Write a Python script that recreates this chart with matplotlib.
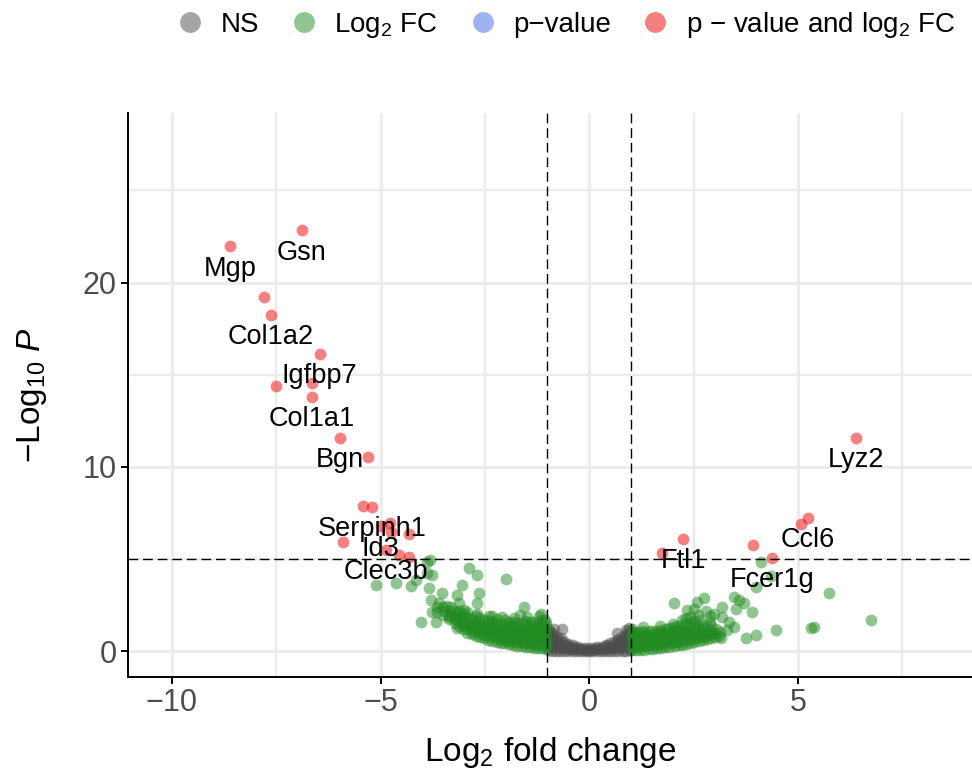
import numpy as np
import matplotlib
matplotlib.use('Agg')
import matplotlib.pyplot as plt
from matplotlib.lines import Line2D
from matplotlib.ticker import MultipleLocator

plt.rcParams['font.family'] = ['Liberation Sans', 'DejaVu Sans']
plt.rcParams['mathtext.fontset'] = 'custom'
plt.rcParams['mathtext.rm'] = 'Liberation Sans'
plt.rcParams['mathtext.it'] = 'Liberation Sans:italic'
plt.rcParams['mathtext.bf'] = 'Liberation Sans:bold'

# cut-offs: |log2FC| > 1 and -log10 p > 5
fc_cut = 1.0
p_cut = 5.0

# genes passing both cut-offs (name '' = not labelled)
sig_genes = ['Mgp', 'Gsn', '', 'Col1a2', 'Igfbp7', '', '', 'Col1a1', 'Bgn', '',
             '', 'Serpinh1', 'Id3', '', '', '', '', 'Clec3b', '', '',
             'Lyz2', 'Ccl6', '', 'Ftl1', '', '', 'Fcer1g']
sig_x = [-8.61, -6.89, -7.80, -7.63, -6.46, -7.51, -6.65, -6.65, -5.98, -5.29,
         -5.43, -5.20, -5.00, -4.78, -4.74, -4.31, -5.91, -4.88, -4.55, -4.31,
         6.39, 5.24, 5.07, 2.25, 1.75, 3.92, 4.38]
sig_y = [21.96, 22.83, 19.24, 18.26, 16.14, 14.40, 14.57, 13.80, 11.58, 10.54,
         7.88, 7.83, 6.78, 6.96, 6.47, 6.36, 5.92, 5.52, 5.22, 5.11,
         11.58, 7.23, 6.90, 6.09, 5.33, 5.76, 5.05]

# genes passing the fold-change cut-off only
fc_left_pts = [
    (-1.03, 0.14), (-1.03, 0.33), (-1.04, 0.57), (-1.03, 0.74), (-1.03, 0.97), (-1.04, 1.12), (-1.03, 1.38), (-1.03, 1.53), (-1.05, 1.72),
    (-1.12, 0.16), (-1.13, 0.38), (-1.11, 0.55), (-1.12, 0.78), (-1.13, 0.95), (-1.12, 1.18), (-1.11, 1.34), (-1.12, 1.57), (-1.14, 1.70),
    (-1.22, 0.18), (-1.21, 0.37), (-1.23, 0.59), (-1.22, 0.77), (-1.21, 0.99), (-1.23, 1.17), (-1.22, 1.40), (-1.21, 1.58), (-1.20, 1.90),
    (-1.32, 0.20), (-1.33, 0.41), (-1.31, 0.60), (-1.32, 0.82), (-1.33, 1.00), (-1.31, 1.21), (-1.32, 1.39), (-1.33, 1.62),
    (-1.42, 0.22), (-1.41, 0.43), (-1.43, 0.61), (-1.42, 0.83), (-1.41, 1.03), (-1.43, 1.22), (-1.42, 1.43), (-1.41, 1.60),
    (-1.52, 0.25), (-1.53, 0.44), (-1.51, 0.66), (-1.52, 0.85), (-1.53, 1.06), (-1.51, 1.24), (-1.52, 1.46), (-1.53, 1.66), (-1.50, 1.85),
    (-1.62, 0.28), (-1.61, 0.49), (-1.63, 0.67), (-1.62, 0.89), (-1.61, 1.07), (-1.63, 1.29), (-1.62, 1.50),
    (-1.72, 0.31), (-1.73, 0.50), (-1.71, 0.72), (-1.72, 0.90), (-1.73, 1.12), (-1.71, 1.30), (-1.72, 1.55),
    (-1.82, 0.35), (-1.81, 0.56), (-1.83, 0.74), (-1.82, 0.96), (-1.81, 1.14), (-1.83, 1.36), (-1.82, 1.60), (-1.80, 1.82),
    (-1.92, 0.39), (-1.93, 0.58), (-1.91, 0.80), (-1.92, 0.98), (-1.93, 1.20), (-1.91, 1.40), (-1.92, 1.62),
    (-2.02, 0.43), (-2.01, 0.64), (-2.03, 0.82), (-2.02, 1.04), (-2.01, 1.22), (-2.03, 1.45), (-2.02, 1.68),
    (-2.12, 0.48), (-2.13, 0.67), (-2.11, 0.89), (-2.12, 1.07), (-2.13, 1.29), (-2.11, 1.50), (-2.10, 1.85),
    (-2.22, 0.53), (-2.21, 0.74), (-2.23, 0.92), (-2.22, 1.14), (-2.21, 1.32), (-2.23, 1.55), (-2.22, 1.75),
    (-2.32, 0.58), (-2.33, 0.77), (-2.31, 0.99), (-2.32, 1.17), (-2.33, 1.39), (-2.31, 1.60),
    (-2.42, 0.64), (-2.41, 0.85), (-2.43, 1.03), (-2.42, 1.25), (-2.41, 1.43), (-2.43, 1.66), (-2.40, 1.90),
    (-2.52, 0.70), (-2.53, 0.89), (-2.51, 1.11), (-2.52, 1.29), (-2.53, 1.51), (-2.51, 1.72),
    (-2.62, 0.77), (-2.61, 0.98), (-2.63, 1.16), (-2.62, 1.38), (-2.61, 1.56), (-2.63, 1.80),
    (-2.72, 0.85), (-2.73, 1.04), (-2.71, 1.26), (-2.72, 1.44), (-2.73, 1.66), (-2.71, 1.90), (-2.70, 2.05),
    (-2.82, 0.93), (-2.81, 1.14), (-2.83, 1.32), (-2.82, 1.54), (-2.81, 1.75),
    (-2.92, 1.02), (-2.93, 1.21), (-2.91, 1.43), (-2.92, 1.61), (-2.93, 1.85),
    (-3.02, 1.22), (-3.01, 1.43), (-3.03, 1.61), (-3.02, 1.83), (-3.01, 2.02), (-3.00, 2.25),
    (-3.12, 1.40), (-3.13, 1.58), (-3.11, 1.80), (-3.12, 2.00), (-3.13, 2.20),
    (-3.22, 1.55), (-3.21, 1.77), (-3.23, 1.98), (-3.22, 2.20),
    (-3.35, 1.75), (-3.36, 1.96), (-3.34, 2.18), (-3.30, 2.40),
    (-3.50, 1.95), (-3.49, 2.20), (-3.51, 2.42),
    (-3.65, 2.15), (-3.64, 2.40), (-3.60, 2.60),
]
fc_right_pts = [
    (1.03, 0.06), (1.03, 0.27), (1.04, 0.45), (1.03, 0.67), (1.03, 0.85), (1.04, 1.06), (1.03, 1.22),
    (1.12, 0.07), (1.13, 0.26), (1.11, 0.48), (1.12, 0.66), (1.13, 0.88), (1.12, 1.05),
    (1.22, 0.08), (1.21, 0.29), (1.23, 0.47), (1.22, 0.69), (1.21, 0.87), (1.23, 1.08),
    (1.32, 0.10), (1.33, 0.29), (1.31, 0.51), (1.32, 0.69), (1.33, 0.91), (1.31, 1.05), (1.30, 1.30),
    (1.42, 0.12), (1.41, 0.33), (1.43, 0.51), (1.42, 0.73), (1.41, 0.91), (1.43, 1.10),
    (1.52, 0.14), (1.53, 0.33), (1.51, 0.55), (1.52, 0.73), (1.53, 0.95), (1.51, 1.08),
    (1.62, 0.16), (1.61, 0.37), (1.63, 0.55), (1.62, 0.77), (1.61, 0.95), (1.63, 1.12),
    (1.72, 0.19), (1.73, 0.38), (1.71, 0.60), (1.72, 0.78), (1.73, 1.00), (1.71, 1.15), (1.70, 1.35),
    (1.82, 0.22), (1.81, 0.43), (1.83, 0.61), (1.82, 0.83), (1.81, 1.01), (1.83, 1.20),
    (1.92, 0.25), (1.93, 0.44), (1.91, 0.66), (1.92, 0.84), (1.93, 1.06), (1.91, 1.25),
    (2.02, 0.29), (2.01, 0.50), (2.03, 0.68), (2.02, 0.90), (2.01, 1.08), (2.03, 1.30), (2.00, 1.50),
    (2.12, 0.33), (2.13, 0.52), (2.11, 0.74), (2.12, 0.92), (2.13, 1.14), (2.11, 1.38),
    (2.22, 0.37), (2.21, 0.58), (2.23, 0.76), (2.22, 0.98), (2.21, 1.16), (2.23, 1.45), (2.22, 1.70),
    (2.32, 0.41), (2.33, 0.60), (2.31, 0.82), (2.32, 1.00), (2.33, 1.22), (2.31, 1.50), (2.32, 1.80),
    (2.42, 0.45), (2.41, 0.66), (2.43, 0.84), (2.42, 1.06), (2.41, 1.30), (2.43, 1.60), (2.42, 1.85),
    (2.52, 0.50), (2.53, 0.69), (2.51, 0.91), (2.52, 1.09), (2.53, 1.35), (2.51, 1.65),
    (2.62, 0.55), (2.61, 0.76), (2.63, 0.94), (2.62, 1.16), (2.61, 1.40), (2.63, 1.70), (2.60, 1.95),
    (2.72, 0.60), (2.73, 0.79), (2.71, 1.01), (2.72, 1.19), (2.73, 1.45),
    (2.82, 0.66), (2.81, 0.87), (2.83, 1.05), (2.82, 1.30),
    (2.92, 0.72), (2.93, 0.91), (2.91, 1.13), (2.92, 1.35), (2.90, 1.60),
    (3.02, 0.78), (3.01, 0.99), (3.03, 1.20),
    (3.12, 0.85), (3.13, 1.05),
]
fc_sparse_pts = [
    (-5.10, 3.59), (-4.62, 3.70), (-4.26, 3.55), (-4.14, 3.86), (-3.88, 4.84), (-3.81, 4.95),
    (-3.88, 4.24), (-3.76, 4.13), (-3.83, 3.42), (-3.78, 2.77), (-3.52, 3.15), (-3.18, 3.04),
    (-3.76, 2.12), (-3.35, 1.85), (-3.11, 2.61), (-2.94, 2.12), (-2.70, 2.61), (-2.63, 3.15),
    (-2.87, 4.51), (-2.70, 4.13), (-3.04, 3.59), (-1.99, 3.91), (-1.56, 2.39), (-1.15, 2.01),
    (-4.02, 1.58), (-3.66, 1.58), (-1.67, 1.95), (-3.18, 1.25), (-3.40, 2.45), (-2.32, 1.92),
    (2.03, 2.61), (2.34, 2.23), (2.58, 2.66), (2.75, 2.88), (3.18, 2.39), (3.47, 2.93),
    (3.59, 2.77), (3.71, 2.61), (3.52, 2.28), (3.90, 2.12), (3.18, 1.85), (3.99, 3.48),
    (4.35, 4.10), (4.12, 4.84), (5.74, 3.15), (3.30, 1.14), (3.16, 0.71), (3.76, 0.71),
    (4.00, 0.87), (4.47, 1.14), (5.31, 1.25), (5.38, 1.30), (6.75, 1.68), (3.47, 1.30),
    (2.80, 2.20), (2.90, 1.90), (2.50, 2.30), (3.00, 2.00), (3.35, 1.60),
]

# genes passing neither cut-off
ns_pts = [
    (-0.97, 0.05), (-0.97, 0.26), (-0.97, 0.44), (-0.96, 0.66), (-0.97, 0.84), (-0.96, 1.05), (-0.97, 1.18),
    (-0.89, 0.04), (-0.90, 0.23), (-0.89, 0.46), (-0.90, 0.64), (-0.88, 0.86), (-0.90, 0.99), (-0.85, 1.22),
    (-0.80, 0.03), (-0.79, 0.22), (-0.81, 0.41), (-0.80, 0.61), (-0.78, 0.79),
    (-0.70, 0.03), (-0.71, 0.20), (-0.69, 0.37), (-0.70, 0.55), (-0.68, 0.70), (-0.66, 1.20),
    (-0.60, 0.02), (-0.61, 0.17), (-0.59, 0.33), (-0.60, 0.49),
    (-0.50, 0.02), (-0.49, 0.15), (-0.51, 0.29), (-0.50, 0.41),
    (-0.40, 0.02), (-0.41, 0.13), (-0.39, 0.25), (-0.40, 0.35),
    (-0.30, 0.01), (-0.31, 0.12), (-0.29, 0.23),
    (-0.20, 0.01), (-0.19, 0.11), (-0.21, 0.21),
    (-0.10, 0.00), (-0.11, 0.10), (-0.09, 0.19),
    (0.00, 0.00), (0.01, 0.09), (-0.01, 0.17),
    (0.10, 0.00), (0.09, 0.10), (0.11, 0.19),
    (0.20, 0.01), (0.21, 0.11), (0.19, 0.22),
    (0.30, 0.01), (0.29, 0.13), (0.31, 0.24),
    (0.40, 0.02), (0.39, 0.14), (0.41, 0.27), (0.40, 0.37),
    (0.50, 0.02), (0.51, 0.16), (0.49, 0.31), (0.50, 0.44),
    (0.60, 0.03), (0.59, 0.18), (0.61, 0.35), (0.60, 0.51),
    (0.70, 0.03), (0.71, 0.20), (0.69, 0.38), (0.70, 0.55), (0.68, 0.68),
    (0.80, 0.04), (0.79, 0.22), (0.81, 0.42), (0.80, 0.61), (0.79, 0.80), (0.66, 0.97),
    (0.89, 0.04), (0.90, 0.24), (0.88, 0.45), (0.90, 0.65), (0.89, 0.84), (0.90, 1.00), (0.87, 1.15),
    (0.97, 0.05), (0.96, 0.25), (0.97, 0.46), (0.97, 0.65), (0.96, 0.86), (0.97, 1.06), (0.96, 1.25),
]

legend_labels = ['NS', 'Log$_2$ FC', 'p\u2212value', 'p \u2212 value and log$_2$ FC']
cols = ['#4d4d4d', '#228B22', '#4169E1', '#EE0000']  # grey30, forestgreen, royalblue, red2

ns_x, ns_y = np.array(ns_pts).T
fc_x, fc_y = np.array(fc_left_pts + fc_right_pts + fc_sparse_pts).T

fig = plt.figure(figsize=(9.72, 7.8), dpi=100)
ax = fig.add_axes([128 / 972, 1 - 677 / 780, (972 - 128) / 972, (677 - 113) / 780])

pt_size = 72
ax.scatter(ns_x, ns_y, s=pt_size, c=cols[0], alpha=0.5, linewidths=0, zorder=2)
ax.scatter(fc_x, fc_y, s=pt_size, c=cols[1], alpha=0.5, linewidths=0, zorder=2)
ax.scatter(sig_x, sig_y, s=pt_size, c=cols[3], alpha=0.5, linewidths=0, zorder=2)

dash = (0, (7, 3.5))
ax.axvline(-fc_cut, color='black', lw=1.0, ls=dash, zorder=3)
ax.axvline(fc_cut, color='black', lw=1.0, ls=dash, zorder=3)
ax.axhline(p_cut, color='black', lw=1.0, ls=dash, zorder=3)

for name, x, y in zip(sig_genes, sig_x, sig_y):
    if name:
        ax.annotate(name, (x, y), xytext=(0, -16), textcoords='offset points',
                    ha='center', va='center', fontsize=19.5, color='black', zorder=4)

ax.set_xlim(-11.05, 9.17)
ax.set_ylim(-1.39, 29.2)
ax.xaxis.set_major_locator(MultipleLocator(5))
ax.xaxis.set_minor_locator(MultipleLocator(2.5))
ax.yaxis.set_major_locator(MultipleLocator(10))
ax.yaxis.set_minor_locator(MultipleLocator(5))
ax.set_axisbelow(True)
ax.grid(which='major', color='#ebebeb', lw=2.0)
ax.grid(which='minor', color='#ebebeb', lw=1.6)

for s in ['top', 'right']:
    ax.spines[s].set_visible(False)
for s in ['left', 'bottom']:
    ax.spines[s].set_linewidth(1.4)
    ax.spines[s].set_color('black')
ax.tick_params(which='major', length=5, width=1.4, color='black',
               labelcolor='#4d4d4d', labelsize=22, pad=3)
ax.tick_params(which='minor', length=0)

ax.set_xlabel('Log$_2$ fold change', fontsize=24, labelpad=12)
ax.set_ylabel('\u2212Log$_{10}$ $\\mathit{P}$', fontsize=24, labelpad=24)

handles = [Line2D([], [], marker='o', ls='none', markersize=15, markerfacecolor=c,
                  markeredgewidth=0, alpha=0.5) for c in cols]
fig.legend(handles, legend_labels, loc='center', bbox_to_anchor=(566 / 972, 1 - 25 / 780),
           ncol=4, frameon=False, fontsize=20, handlelength=1.0, handletextpad=0.6,
           columnspacing=1.1, borderaxespad=0)

fig.savefig('out.png', dpi=100, facecolor='white')
